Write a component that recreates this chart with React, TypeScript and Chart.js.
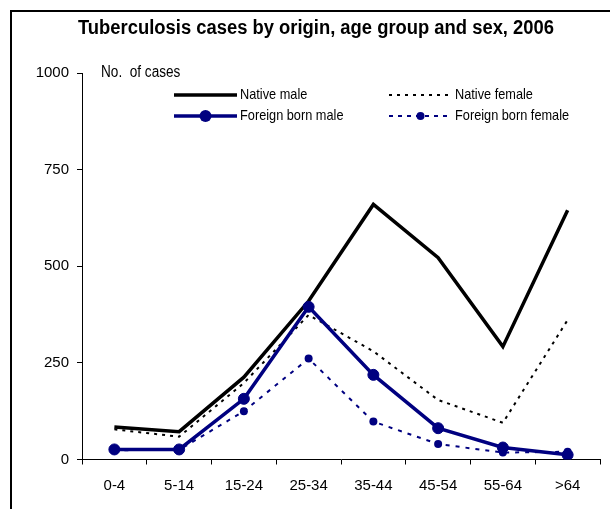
import React, { useEffect, useRef } from "react";
import { Chart, registerables } from "chart.js";

Chart.register(...registerables);

const categories = ["0-4", "5-14", "15-24", "25-34", "35-44", "45-54", "55-64", ">64"];
const nativeMale = [84, 72, 213, 410, 660, 522, 292, 645];
const nativeFemale = [78, 59, 198, 374, 280, 154, 95, 361];
const foreignMale = [26, 26, 157, 395, 219, 81, 31, 12];
const foreignFemale = [24, 25, 125, 261, 98, 40, 18, 20];
const yTicks = [0, 250, 500, 750, 1000];

const titleText = "Tuberculosis cases by origin, age group and sex, 2006";
const yAxisTitle = "No.  of cases";
const legendLabels = ["Native male", "Native female", "Foreign born male", "Foreign born female"];

const NAVY = "#000080";
const SANS = '"Liberation Sans", Arial, sans-serif';

function narrowText(ctx: any, text: string, x: number, y: number, sx: number, align: "left" | "center") {
  const w = ctx.measureText(text).width * sx;
  const left = align === "center" ? x - w / 2 : x;
  ctx.save();
  ctx.translate(left, y);
  ctx.scale(sx, 1);
  ctx.textAlign = "left";
  ctx.fillText(text, 0, 0);
  ctx.restore();
}

const decorPlugin = {
  id: "decor",
  beforeDraw(chart: any) {
    const ctx = chart.ctx;
    ctx.save();
    ctx.fillStyle = "#ffffff";
    ctx.fillRect(0, 0, chart.width, chart.height);
    ctx.fillStyle = "#000000";
    ctx.fillRect(10, 10, chart.width - 10, 2);
    ctx.fillRect(10, 10, 2, chart.height - 10);
    ctx.restore();
  },
  afterDraw(chart: any) {
    const ctx = chart.ctx;
    ctx.save();
    ctx.fillStyle = "#000";
    ctx.textBaseline = "middle";
    // title
    ctx.font = `bold 20px ${SANS}`;
    const tw = ctx.measureText(titleText).width;
    narrowText(ctx, titleText, 316, 28, 476 / tw, "center");
    // y axis title
    ctx.font = `16px ${SANS}`;
    narrowText(ctx, yAxisTitle, 101, 73, 0.85, "left");
    // legend
    const rows = [
      { x1: 174, x2: 237, y: 95, color: "#000", w: 3.5, dash: [] as number[], r: 0, tx: 240, label: legendLabels[0] },
      { x1: 389, x2: 452, y: 95, color: "#000", w: 2, dash: [3, 5], r: 0, tx: 455, label: legendLabels[1] },
      { x1: 174, x2: 237, y: 116, color: NAVY, w: 3.5, dash: [] as number[], r: 6, tx: 240, label: legendLabels[2] },
      { x1: 389, x2: 452, y: 116, color: NAVY, w: 2, dash: [4, 5], r: 4, tx: 455, label: legendLabels[3] },
    ];
    for (const r of rows) {
      ctx.beginPath();
      ctx.setLineDash(r.dash);
      ctx.strokeStyle = r.color;
      ctx.lineWidth = r.w;
      ctx.moveTo(r.x1, r.y);
      ctx.lineTo(r.x2, r.y);
      ctx.stroke();
      ctx.setLineDash([]);
      if (r.r > 0) {
        ctx.beginPath();
        ctx.fillStyle = r.color;
        ctx.arc((r.x1 + r.x2) / 2, r.y, r.r, 0, Math.PI * 2);
        ctx.fill();
      }
      ctx.fillStyle = "#000";
      ctx.font = `15px ${SANS}`;
      narrowText(ctx, r.label, r.tx, r.y, 0.85, "left");
    }
    ctx.restore();
  },
};

export default function App() {
  const ref = useRef<HTMLCanvasElement | null>(null);
  useEffect(() => {
    if (!ref.current) return;
    const chart = new Chart(ref.current, {
      type: "line",
      data: {
        labels: categories,
        datasets: [
          {
            label: legendLabels[2],
            data: foreignMale,
            borderColor: NAVY,
            backgroundColor: NAVY,
            borderWidth: 3.5,
            pointRadius: 5.5,
            pointBorderWidth: 1,
            pointBackgroundColor: NAVY,
            pointBorderColor: NAVY,
            tension: 0,
            order: 0,
          },
          {
            label: legendLabels[0],
            data: nativeMale,
            borderColor: "#000",
            borderWidth: 3.5,
            pointRadius: 0,
            tension: 0,
            order: 1,
          },
          {
            label: legendLabels[3],
            data: foreignFemale,
            borderColor: NAVY,
            backgroundColor: NAVY,
            borderWidth: 2,
            borderDash: [4, 6],
            pointRadius: 4,
            pointBorderWidth: 0,
            pointBackgroundColor: NAVY,
            tension: 0,
            order: 2,
          },
          {
            label: legendLabels[1],
            data: nativeFemale,
            borderColor: "#000",
            borderWidth: 2,
            borderDash: [3, 5],
            pointRadius: 0,
            tension: 0,
            order: 3,
          },
        ],
      },
      options: {
        responsive: false,
        animation: false,
        events: [],
        layout: { padding: { left: 0, right: 10, top: 73, bottom: 0 } },
        plugins: {
          legend: { display: false },
          title: { display: false },
          tooltip: { enabled: false },
        },
        scales: {
          x: {
            type: "category",
            offset: true,
            afterFit: (s: any) => {
              s.height = 49.5;
            },
            grid: {
              offset: true,
              drawOnChartArea: false,
              drawTicks: true,
              tickLength: 5,
              color: "#000",
            },
            border: { display: true, color: "#000", width: 1 },
            ticks: {
              color: "#000",
              font: { family: SANS, size: 15 },
              padding: 12,
              maxRotation: 0,
              autoSkip: false,
            },
          },
          y: {
            min: 0,
            max: 1000,
            afterFit: (s: any) => {
              s.width = 82;
            },
            afterBuildTicks: (s: any) => {
              s.ticks = yTicks.map((v) => ({ value: v }));
            },
            grid: {
              drawOnChartArea: false,
              drawTicks: true,
              tickLength: 5,
              color: "#000",
            },
            border: { display: true, color: "#000", width: 1 },
            ticks: {
              color: "#000",
              font: { family: SANS, size: 15 },
              padding: 8,
              callback: (v: any) => String(v),
            },
          },
        },
      },
      plugins: [decorPlugin],
    });
    return () => chart.destroy();
  }, []);
  return (
    <div style={{ position: "absolute", left: 0, top: 0, width: 610, height: 509 }}>
      <canvas ref={ref} width={610} height={509} style={{ display: "block", width: 610, height: 509 }} />
    </div>
  );
}
